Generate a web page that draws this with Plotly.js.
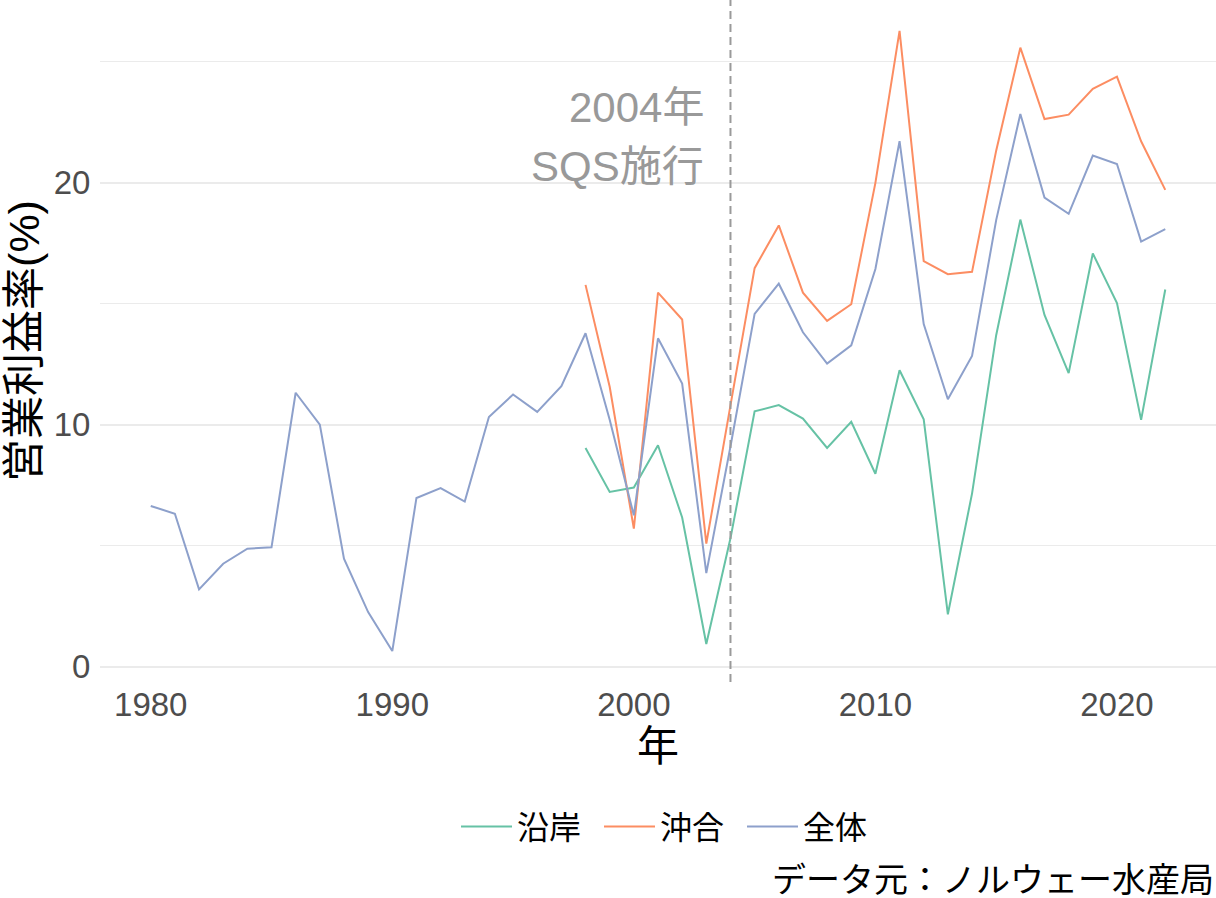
<!DOCTYPE html>
<html>
<head>
<meta charset="utf-8">
<script src="https://cdn.plot.ly/plotly-3.0.1.min.js"></script>
<style>html,body{margin:0;padding:0;background:#fff;}#chart{width:1216px;height:898px;}</style>
</head>
<body>
<div id="chart"></div>
<script>
const yearsAll = [1980,1981,1982,1983,1984,1985,1986,1987,1988,1989,1990,1991,1992,1993,1994,1995,1996,1997,1998,1999,2000,2001,2002,2003,2004,2005,2006,2007,2008,2009,2010,2011,2012,2013,2014,2015,2016,2017,2018,2019,2020,2021,2022];
const totalVals = [6.64,6.32,3.19,4.25,4.87,4.93,11.32,10.0,4.46,2.25,0.64,6.97,7.38,6.82,10.32,11.25,10.53,11.59,13.78,10.2,6.25,13.57,11.7,3.86,9.1,14.58,15.83,13.82,12.53,13.28,16.44,21.72,14.16,11.05,12.84,18.46,22.85,19.39,18.72,21.13,20.78,17.57,18.09];
const yearsSeg = [1998,1999,2000,2001,2002,2003,2004,2005,2006,2007,2008,2009,2010,2011,2012,2013,2014,2015,2016,2017,2018,2019,2020,2021,2022];
const coastalVals = [9.04,7.22,7.4,9.15,6.16,0.93,5.3,10.55,10.81,10.25,9.04,10.12,7.97,12.25,10.22,2.16,7.15,13.7,18.48,14.54,12.13,17.08,15.03,10.2,15.59];
const offshoreVals = [15.78,11.57,5.7,15.46,14.35,5.08,10.8,16.47,18.24,15.46,14.29,14.98,20.0,26.28,16.76,16.22,16.32,21.33,25.59,22.64,22.82,23.89,24.39,21.72,19.71];
const seriesNames = ['沿岸','沖合','全体'];
const seriesColors = ['#66C2A5','#FC8D62','#8DA0CB'];
const xTicks = [1980,1990,2000,2010,2020];
const yTicks = [0,10,20];
const sqsYear = 2004;
const annotLines = ['2004年','SQS施行'];
const captionText = 'データ元：ノルウェー水産局';

const FONT = 'Liberation Sans, Arial, Noto Sans CJK JP, sans-serif';

const traces = [
  {x: yearsSeg, y: coastalVals, name: seriesNames[0]},
  {x: yearsSeg, y: offshoreVals, name: seriesNames[1]},
  {x: yearsAll, y: totalVals, name: seriesNames[2]}
].map((t,i)=>Object.assign(t,{type:'scatter',mode:'lines',line:{color:seriesColors[i],width:2},hoverinfo:'x+y'}));

const layout = {
  width:1216, height:898,
  margin:{l:100,r:0,t:0,b:216,pad:0},
  paper_bgcolor:'#fff', plot_bgcolor:'#fff',
  font:{family:FONT,size:32,color:'#000'},
  xaxis:{
    range:[1977.9,2024.1], tickvals:xTicks, ticktext:xTicks.map(String),
    showgrid:false, zeroline:false, showline:false,
    ticks:'',
    tickfont:{family:FONT,size:33,color:'#4d4d4d'},
    title:{text:'年',font:{family:FONT,size:42,color:'#000'},standoff:4}
  },
  yaxis:{
    range:[-0.64,27.56], tickvals:yTicks, ticktext:yTicks.map(String),
    showgrid:true, gridcolor:'#ebebeb', gridwidth:2,
    zeroline:false, showline:false,
    ticks:'outside', ticklen:2, tickcolor:'rgba(0,0,0,0)',
    tickfont:{family:FONT,size:33,color:'#4d4d4d'},
    minor:{dtick:5, tick0:0, showgrid:true, gridcolor:'#ebebeb', gridwidth:1, ticks:''},
    title:{text:'営業利益率(%)',font:{family:FONT,size:43,color:'#000'},standoff:6}
  },
  showlegend:true,
  legend:{orientation:'h', x:0.319, xanchor:'left', y:-0.212, yanchor:'middle',
    itemwidth:51, entrywidth:77, entrywidthmode:'pixels',
    font:{family:FONT,size:32,color:'#000'}, bgcolor:'rgba(0,0,0,0)', traceorder:'normal'},
  shapes:[{type:'line', xref:'x', yref:'paper', x0:sqsYear, x1:sqsYear, y0:0, y1:1,
    line:{color:'#9a9a9a', width:2, dash:'8px,5px'}}],
  annotations:[
    {xref:'x', yref:'paper', x:sqsYear, y:0.842, xanchor:'right', yanchor:'middle', xshift:-24,
     text:annotLines[0], showarrow:false, font:{family:FONT,size:42,color:'#999999'}},
    {xref:'x', yref:'paper', x:sqsYear, y:0.756, xanchor:'right', yanchor:'middle', xshift:-24,
     text:annotLines[1], showarrow:false, font:{family:FONT,size:42,color:'#999999'}},
    {xref:'paper', yref:'paper', x:1, y:-0.291, xanchor:'right', yanchor:'middle', xshift:0,
     text:captionText, showarrow:false, font:{family:FONT,size:34,color:'#000'}}
  ]
};
Plotly.newPlot('chart', traces, layout, {displayModeBar:false, staticPlot:true});
</script>
</body>
</html>
